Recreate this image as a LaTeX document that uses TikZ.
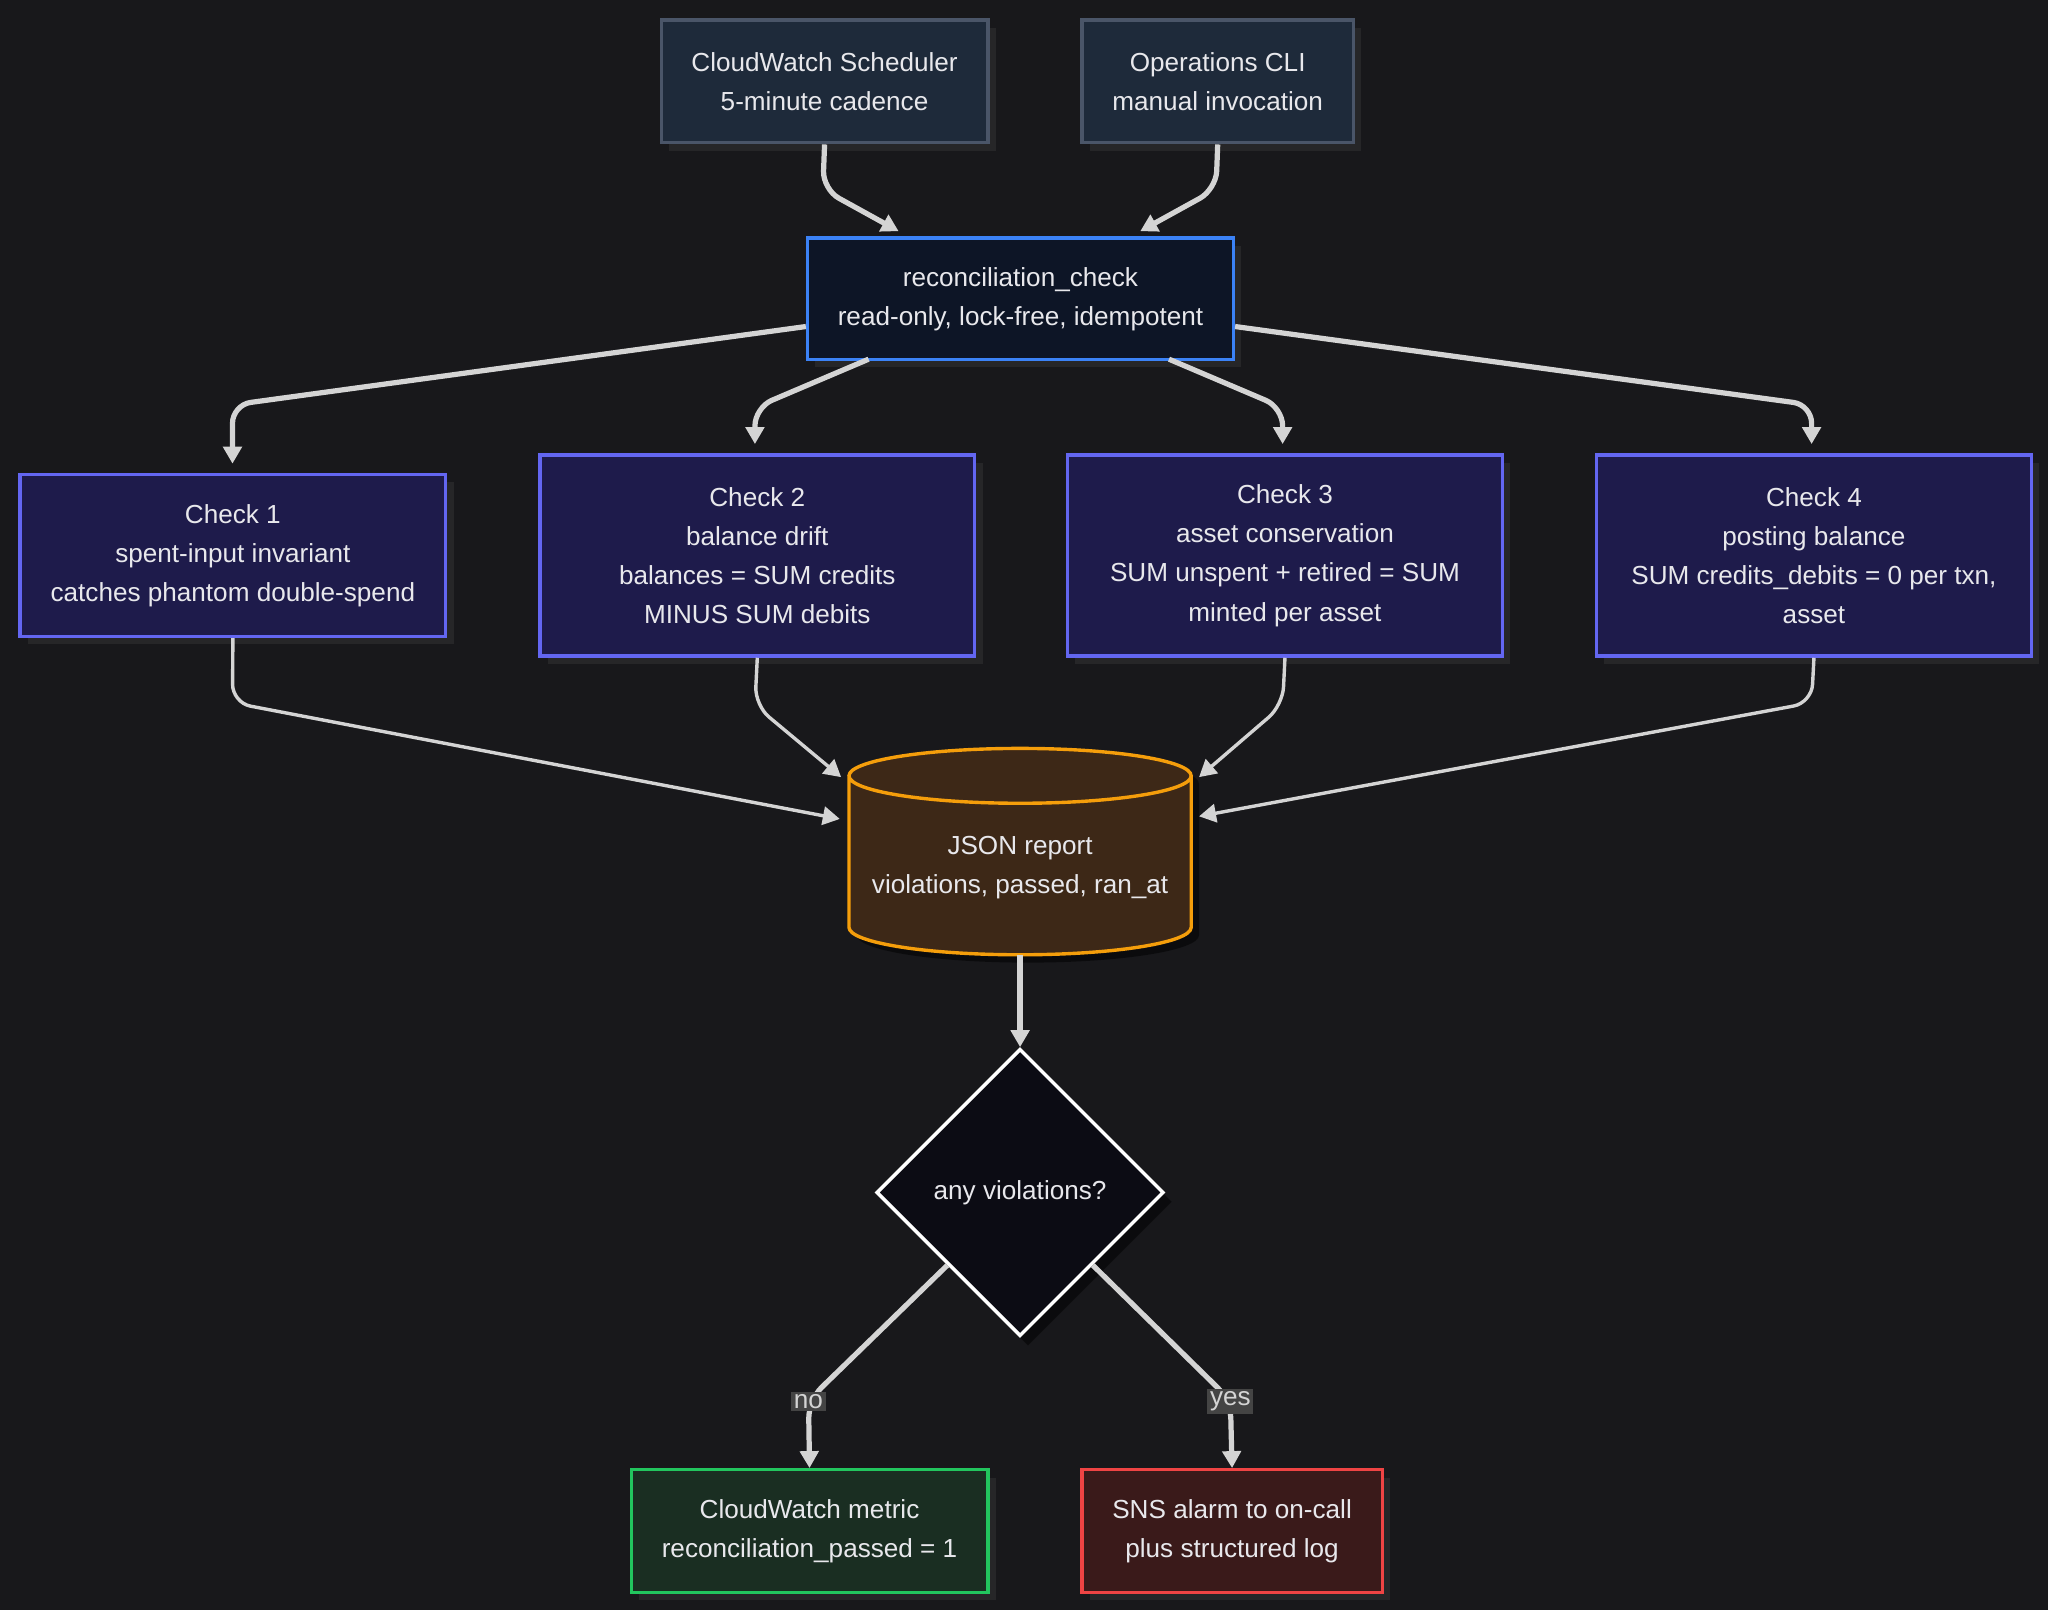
\documentclass[tikz,border=0pt]{standalone}
\usepackage{fontspec}
\setmainfont{Liberation Sans}
\usetikzlibrary{arrows.meta,shapes.geometric,calc}
\definecolor{bg}{HTML}{18181B}
\definecolor{edge}{HTML}{D4D4D4}
\definecolor{txt}{HTML}{E8E8EC}
\definecolor{HTML1E2A3A}{HTML}{1E2A3A}\definecolor{HTML4A5568}{HTML}{4A5568}
\definecolor{HTML0D1526}{HTML}{0D1526}\definecolor{HTML3B82F6}{HTML}{3B82F6}
\definecolor{HTML1E1B4B}{HTML}{1E1B4B}\definecolor{HTML6366F1}{HTML}{6366F1}
\definecolor{HTML1A2E22}{HTML}{1A2E22}\definecolor{HTML22C55E}{HTML}{22C55E}
\definecolor{HTML3A1A1A}{HTML}{3A1A1A}\definecolor{HTMLEF4444}{HTML}{EF4444}
\definecolor{HTML444444}{HTML}{444444}
\definecolor{jfill}{HTML}{3D2817}\definecolor{jdraw}{HTML}{F59E0B}
\definecolor{dfill}{HTML}{0C0C14}
\tikzset{
 box/.style={draw,line width=2.6pt,text=txt,align=center,font=\fontsize{20}{30}\selectfont,inner sep=0pt,
   anchor=north west},
 shadowed/.style={preaction={fill=black!80,opacity=0.55,transform canvas={xshift=6pt,yshift=-6pt}}},
 src/.style={box,shadowed,fill=HTML1E2A3A,draw=HTML4A5568},
 main/.style={box,shadowed,fill=HTML0D1526,draw=HTML3B82F6},
 chk/.style={box,shadowed,fill=HTML1E1B4B,draw=HTML6366F1},
 ok/.style={box,shadowed,fill=HTML1A2E22,draw=HTML22C55E},
 bad/.style={box,shadowed,fill=HTML3A1A1A,draw=HTMLEF4444},
 fl/.style={draw=edge,line width=4pt,rounded corners=14pt,-{Triangle[length=13pt,width=14pt]}},
 fl2/.style={draw=edge,line width=2.6pt,rounded corners=14pt,-{Triangle[length=13pt,width=14pt]}},
 lab/.style={fill=HTML444444,text=edge,font=\fontsize{20}{22}\selectfont,inner sep=2pt}
}
\begin{document}
\begin{tikzpicture}[x=1pt,y=-1pt]
\fill[bg] (0,0) rectangle (1568,1233);
\useasboundingbox (0,0) rectangle (1568,1233);
\node[src,minimum width=250pt,minimum height=94pt] (sched) at (505,14) {CloudWatch Scheduler\\5-minute cadence};
\node[src,minimum width=208pt,minimum height=94pt] (ops) at (827,14) {Operations CLI\\manual invocation};
\node[main,minimum width=326pt,minimum height=93pt] (rec) at (617,181) {reconciliation\_check\\read-only, lock-free, idempotent};
\node[chk,minimum width=326pt,minimum height=124pt] (c1) at (14,362) {Check 1\\spent-input invariant\\catches phantom double-spend};
\node[chk,minimum width=333pt,minimum height=154pt] (c2) at (412,347) {Check 2\\balance drift\\balances = SUM credits\\MINUS SUM debits};
\node[chk,minimum width=333pt,minimum height=154pt] (c3) at (816,347) {Check 3\\asset conservation\\SUM unspent + retired = SUM\\minted per asset};
\node[chk,minimum width=333pt,minimum height=154pt] (c4) at (1221,347) {Check 4\\posting balance\\SUM credits\_debits = 0 per txn,\\asset};
% cylinder
\fill[black,opacity=0.5] (656,600) -- (656,716) arc[start angle=180,end angle=0,x radius=131,y radius=21] -- (918,600) arc[start angle=0,end angle=-180,x radius=131,y radius=21];
\path[fill=jfill,draw=jdraw,line width=2.6pt] (650,594) -- (650,710) arc[start angle=180,end angle=0,x radius=131,y radius=21] -- (912,594) arc[start angle=0,end angle=-180,x radius=131,y radius=21] arc[start angle=180,end angle=0,x radius=131,y radius=21];
\node[text=txt,align=center,font=\fontsize{20}{30}\selectfont] (json) at (781,664) {JSON report\\violations, passed, ran\_at};
\coordinate (jbot) at (781,731);
\fill[black,opacity=0.5] (787,810) -- (897,920) -- (787,1030) -- (677,920) -- cycle;
\node[diamond,draw=white,fill=dfill,line width=2.6pt,minimum width=220pt,minimum height=220pt,inner sep=0pt,text=txt,font=\fontsize{20}{30}\selectfont] (dec) at (781,913) {any violations?};
\node[ok,minimum width=273pt,minimum height=94pt] (ok) at (482,1124) {CloudWatch metric\\reconciliation\_passed = 1};
\node[bad,minimum width=230pt,minimum height=94pt] (bad) at (827,1124) {SNS alarm to on-call\\plus structured log};
% edges
\draw[fl] (sched.south) -- (630,145) -- (688,177);
\draw[fl] (ops.south) -- (931,145) -- (873,177);
\draw[fl] (rec.west |- 0,250) -- (178,310) -- (178,355);
\draw[fl] (665,275) -- (578,312) -- (578,340);
\draw[fl] (895,275) -- (982,312) -- (982,340);
\draw[fl] (rec.east |- 0,250) -- (1387,310) -- (1387,340);
\draw[fl2] (c1.south) -- (178,538) -- (643,627);
\draw[fl2] (c2.south) -- (578,540) -- (644,595);
\draw[fl2] (c3.south) -- (982,540) -- (918,595);
\draw[fl2] (c4.south) -- (1387,538) -- (918,625);
\draw[fl] (jbot) -- (dec.north);
\draw[fl] (dec.south west) -- (619,1072) -- (ok.north);
\draw[fl] (dec.south east) -- (942,1072) -- (bad.north);
\node[lab] (no) at (619,1073) {no};
\node[lab] (yes) at (942,1073) {yes};
\end{tikzpicture}
\end{document}
